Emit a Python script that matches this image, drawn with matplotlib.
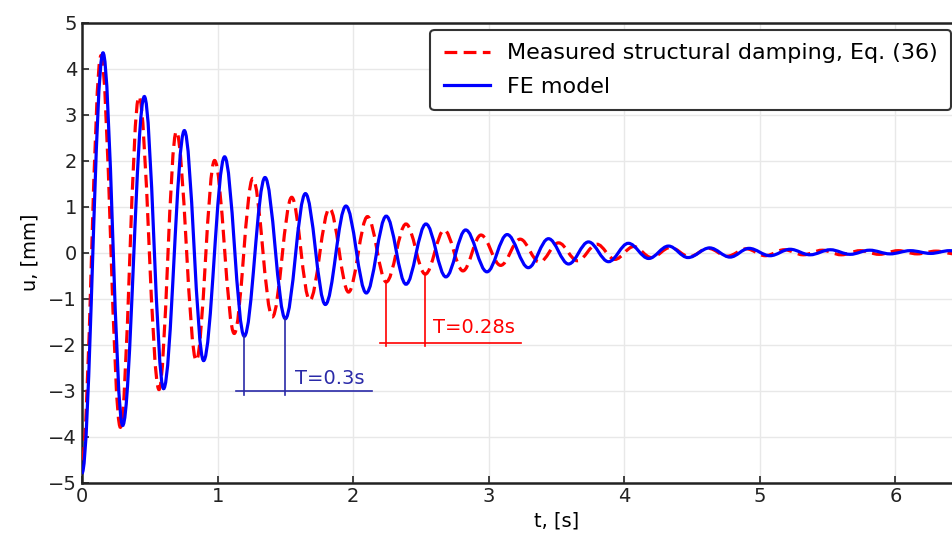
import numpy as np
import matplotlib
matplotlib.use("Agg")
import matplotlib.pyplot as plt
from matplotlib.path import Path
from matplotlib.patches import PathPatch
from matplotlib.lines import Line2D

# extrema: time [s], displacement [mm]
meas_t = [0.0, 0.14, 0.283, 0.42, 0.568, 0.696, 0.843, 0.978, 1.123, 1.26, 1.404,
          1.547, 1.68, 1.826, 1.966, 2.106, 2.244, 2.39, 2.532, 2.672, 2.81, 2.943,
          3.088, 3.232, 3.375, 3.515, 3.655, 3.798, 3.93, 4.07, 4.2, 4.34, 4.48,
          4.62, 4.76, 4.9, 5.04, 5.18, 5.32, 5.46, 5.6, 5.74, 5.88, 6.02, 6.16,
          6.3, 6.44, 6.58]
meas_u = [-4.5, 4.28, -3.8, 3.39, -2.98, 2.63, -2.35, 2.0, -1.76, 1.61, -1.4,
          1.2, -1.04, 0.96, -0.86, 0.78, -0.64, 0.62, -0.47, 0.49, -0.4, 0.38,
          -0.28, 0.29, -0.21, 0.21, -0.18, 0.18, -0.15, 0.13, -0.11, 0.11, -0.09,
          0.09, -0.08, 0.08, -0.07, 0.06, -0.05, 0.05, -0.05, 0.04, -0.04, 0.04,
          -0.03, 0.03, -0.03, 0.03]

fe_t = [0.0, 0.155, 0.30, 0.46, 0.602, 0.755, 0.897, 1.052, 1.197, 1.35, 1.50,
        1.648, 1.795, 1.947, 2.097, 2.244, 2.39, 2.537, 2.684, 2.83, 2.987, 3.136,
        3.292, 3.441, 3.589, 3.736, 3.884, 4.03, 4.18, 4.326, 4.47, 4.63, 4.78,
        4.92, 5.075, 5.223, 5.37, 5.52, 5.666, 5.81, 5.96, 6.11, 6.26, 6.40, 6.55]
fe_u = [-4.8, 4.34, -3.76, 3.39, -2.96, 2.65, -2.35, 2.08, -1.82, 1.63, -1.44,
        1.28, -1.13, 1.01, -0.88, 0.79, -0.69, 0.62, -0.53, 0.49, -0.42, 0.39,
        -0.33, 0.30, -0.25, 0.23, -0.20, 0.20, -0.13, 0.14, -0.11, 0.10, -0.10,
        0.09, -0.07, 0.07, -0.05, 0.06, -0.04, 0.05, -0.03, 0.04, -0.02, 0.04, -0.02]

# period markers
fe_marks_t = [1.197, 1.50]
fe_marks_u = [-1.82, -1.44]
meas_marks_t = [2.244, 2.532]
meas_marks_u = [-0.64, -0.47]


def wave_path(ts, us):
    # cubic bezier through the extrema, flat tangent at every peak
    verts = [(ts[0], us[0])]
    codes = [Path.MOVETO]
    for i in range(len(ts) - 1):
        dt = ts[i + 1] - ts[i]
        verts += [(ts[i] + 0.36 * dt, us[i]), (ts[i + 1] - 0.36 * dt, us[i + 1]),
                  (ts[i + 1], us[i + 1])]
        codes += [Path.CURVE4] * 3
    return Path(verts, codes)


fig = plt.figure(figsize=(9.52, 5.4), dpi=100)
ax = fig.add_axes([82 / 952, 1 - 482.5 / 540, 949 / 952, 460 / 540])

red = "#ff0000"
blue = "#0000ff"
navy = "#2a2aa8"

ax.add_patch(PathPatch(wave_path(meas_t, meas_u), fill=False, edgecolor=red,
                       lw=2.3, linestyle=(0, (4, 2)), zorder=3))
ax.add_patch(PathPatch(wave_path(fe_t, fe_u), fill=False, edgecolor=blue,
                       lw=2.3, zorder=4))

# FE period marker
for t, u in zip(fe_marks_t, fe_marks_u):
    ax.plot([t, t], [u, -3.1], color=navy, lw=1.2, zorder=5)
ax.plot([1.138, 2.139], [-3.0, -3.0], color=navy, lw=1.2, zorder=5)
ax.text(1.573, -2.74, "T=0.3s", color=navy, fontsize=14, va="center", ha="left")

# measured period marker
for t, u in zip(meas_marks_t, meas_marks_u):
    ax.plot([t, t], [u, -2.04], color=red, lw=1.2, zorder=5)
ax.plot([2.2, 3.237], [-1.97, -1.97], color=red, lw=1.2, zorder=5)
ax.text(2.59, -1.62, "T=0.28s", color=red, fontsize=14, va="center", ha="left")

ax.set_xlim(0, 7)
ax.set_ylim(-5, 5)
ax.set_xticks(range(0, 7))
ax.set_yticks(range(-5, 6))
ax.tick_params(direction="in", labelsize=14, length=5, width=1.2, colors="#222222")
ax.grid(color="#e8e8e8", lw=1)
ax.set_axisbelow(True)
for s in ax.spines.values():
    s.set_linewidth(1.8)
    s.set_color("#222222")

ax.set_xlabel("t, [s]", fontsize=14, labelpad=4)
ax.set_ylabel("u, [mm]", fontsize=14, labelpad=6)

handles = [Line2D([], [], color=red, lw=2.3, linestyle=(0, (4, 2))),
           Line2D([], [], color=blue, lw=2.3)]
leg = fig.legend(handles, ["Measured structural damping, Eq. (36)", "FE model"],
                 loc="upper right", bbox_to_anchor=(951 / 952, 1 - 30 / 540),
                 fontsize=16, frameon=True, fancybox=True, framealpha=1,
                 edgecolor="#333333", handlelength=2.1, handletextpad=0.75,
                 borderpad=0.6, borderaxespad=0, labelspacing=0.6)
leg.get_frame().set_linewidth(1.5)

fig.savefig("out.png", dpi=100)
